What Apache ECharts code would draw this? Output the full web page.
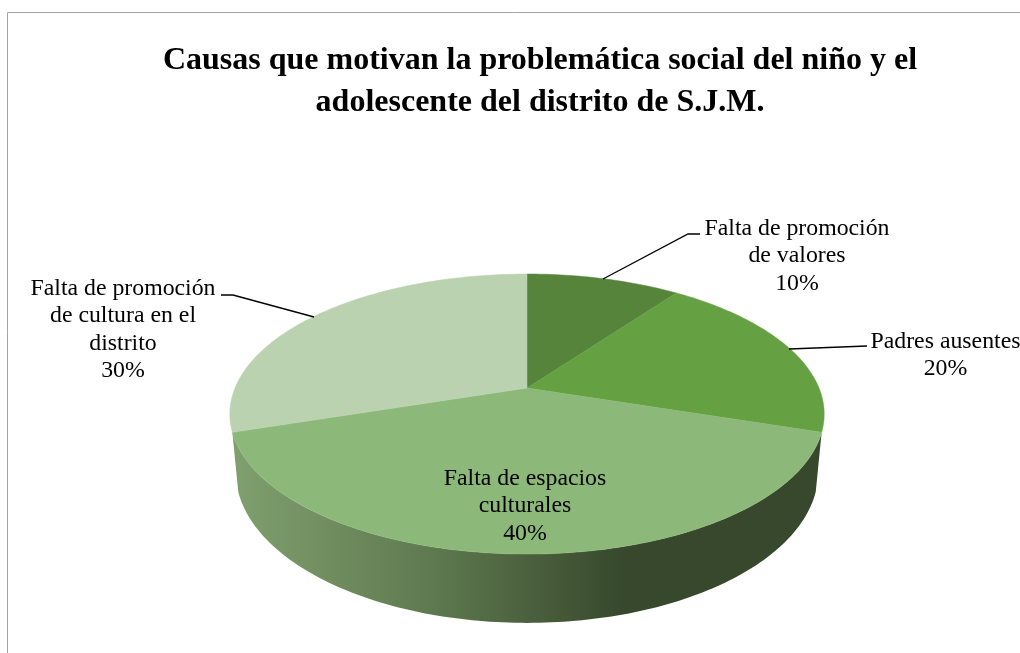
<!DOCTYPE html>
<html>
<head>
<meta charset="utf-8">
<style>html,body{margin:0;padding:0;background:#fff;overflow:hidden}#c{width:1020px;height:653px}</style>
<script src="https://cdn.jsdelivr.net/npm/echarts@6/dist/echarts.min.js"></script>
</head>
<body>
<div id="c"></div>
<script>
var titleLines = ['Causas que motivan la problemática social del niño y el', 'adolescente del distrito de S.J.M.'];
var categories = ['Falta de promoción\nde valores', 'Padres ausentes', 'Falta de espacios\nculturales', 'Falta de promoción\nde cultura en el\ndistrito'];
var values = [10, 20, 40, 30];
var colors = ['#55843a', '#65a042', '#8cb97a', '#bbd2b0'];

// label anchor (centre x, top y) and leader polyline for each slice
var labelAnchors = [[797, 214.5], [945.5, 327.5], [525, 464.5], [123, 274.5]];
var leaders = [[[700, 234], [688, 234], [603, 279]], [[867, 346], [789, 349]], null, [[221, 295], [233, 295], [314, 317]]];

// perspective projection of the tilted disc
var CX = 527, CY = 388, A = 292, B = 135.2, K = 0.186, DEPTH = 56, BOTTOM_SCALE = 0.98;
function project(deg, drop) {
  var t = deg * Math.PI / 180, u = Math.sin(t), v = -Math.cos(t), w = 1 - K * v;
  var sx = drop ? BOTTOM_SCALE : 1;
  return [CX + A * sx * u / w, CY + (B * v + (drop || 0)) / w];
}
function arc(from, to, drop) {
  var pts = [], n = Math.max(2, Math.ceil(Math.abs(to - from)));
  for (var i = 0; i <= n; i++) pts.push(project(from + (to - from) * i / n, drop));
  return pts;
}
var total = values.reduce(function (a, b) { return a + b; }, 0);
function startAngle(idx) {
  var s = 0;
  for (var i = 0; i < idx; i++) s += values[i];
  return s / total * 360;
}

var wallFill = {
  type: 'linear', global: true, x: 232, y: 0, x2: 625, y2: 0,
  colorStops: [{ offset: 0, color: '#80a06f' }, { offset: 0.5, color: '#5f7a50' }, { offset: 1, color: '#37482c' }]
};

var chart = echarts.init(document.getElementById('c'), null, { renderer: 'canvas' });
chart.setOption({
  animation: false,
  backgroundColor: '#fff',
  graphic: [{
    type: 'polyline', silent: true, z: 0,
    shape: { points: [[7.5, 653], [7.5, 12.5], [1020, 12.5]] },
    style: { stroke: '#a3a3a3', lineWidth: 1, fill: null }
  }],
  title: {
    text: titleLines.join('\n'), left: 540, top: 35, textAlign: 'center',
    textStyle: { fontFamily: 'Liberation Serif', fontWeight: 'bold', fontSize: 32, lineHeight: 42, color: '#000' }
  },
  series: [{
    // side wall of the front slice
    type: 'custom', coordinateSystem: 'none', silent: true, z: 1,
    data: [values[2]],
    renderItem: function (params, api) {
      var s = startAngle(2), e = s + api.value(0) / total * 360;
      return { type: 'polygon', shape: { points: arc(s, e, 0).concat(arc(e, s, DEPTH)) }, style: { fill: wallFill } };
    }
  }, {
    // top faces
    type: 'custom', coordinateSystem: 'none', silent: true, z: 2,
    data: values,
    renderItem: function (params, api) {
      var i = params.dataIndex, s = startAngle(i), e = s + api.value(0) / total * 360;
      return {
        type: 'polygon', shape: { points: [[CX, CY]].concat(arc(s, e, 0)) },
        style: { fill: colors[i], stroke: colors[i], lineWidth: 0.5 }
      };
    }
  }, {
    // labels and leaders
    type: 'custom', coordinateSystem: 'none', silent: true, z: 3,
    data: values,
    renderItem: function (params, api) {
      var i = params.dataIndex, v = api.value(0), children = [];
      if (leaders[i]) children.push({
        type: 'polyline', shape: { points: leaders[i] },
        style: { stroke: '#000', lineWidth: 1.3, fill: null }
      });
      children.push({
        type: 'text', x: labelAnchors[i][0], y: labelAnchors[i][1],
        style: {
          text: categories[i] + '\n' + Math.round(v / total * 100) + '%',
          fontFamily: 'Liberation Serif', fontSize: 23.8, lineHeight: 27.5,
          align: 'center', verticalAlign: 'top', fill: '#000'
        }
      });
      return { type: 'group', children: children };
    }
  }]
});
chart.setOption({ title: { left: 535 } });
</script>
</body>
</html>
